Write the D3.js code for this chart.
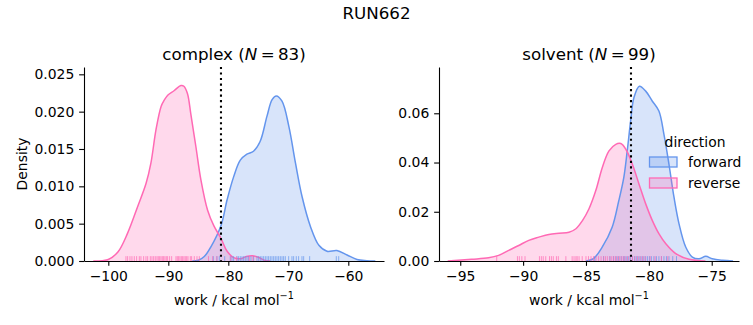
<!DOCTYPE html>
<html><head><meta charset="utf-8">
<script src="https://cdn.jsdelivr.net/npm/d3@7"></script>
<style>body{margin:0;background:#fff} text{font-family:"DejaVu Sans",sans-serif;fill:#000}</style>
</head><body><svg id="c" width="753" height="325"></svg>
<script>
// ---- data ----
const figTitle = "RUN662";
const directions = ["forward", "reverse"];
const colors = {forward: "#6495ED", reverse: "#FF69B4"};

// complex: KDE curves (work, density)
const complexForwardX = [-86, -85, -84, -82.9, -81.2, -80.2, -79.1, -78, -76.9, -75.8, -74.7, -73.55, -72.7, -72, -71.05, -69.9, -68.8, -67.7, -66.3, -64.9, -63.55, -61.9, -60.2, -58.55, -56.9, -55.5];
const complexForwardD = [0, 0.0001, 0.0006, 0.0019, 0.0048, 0.0082, 0.0113, 0.0135, 0.0143, 0.0147, 0.016, 0.0194, 0.0216, 0.0221, 0.0214, 0.018, 0.0131, 0.0086, 0.0046, 0.0021, 0.0013, 0.0014, 0.0008, 0.0002, 0.00005, 0];
const complexReverseX = [-102.5, -101, -100, -98.4, -96.8, -95.1, -93.7, -92.9, -92.05, -91.2, -90.7, -90.1, -89.05, -87.9, -87.4, -86.8, -86.25, -85.4, -84.55, -83.45, -82.4, -81.2, -80.2, -79.1, -78, -77, -76, -75, -74, -73];
const complexReverseD = [0, 0.00005, 0.0002, 0.0012, 0.0037, 0.0073, 0.0104, 0.0131, 0.0176, 0.0207, 0.0215, 0.0222, 0.0228, 0.0235, 0.0234, 0.0224, 0.0197, 0.0153, 0.0108, 0.0068, 0.0047, 0.003, 0.0013, 0.00045, 0.0003, 0.0006, 0.0007, 0.0005, 0.0001, 0];
// complex: rug samples
const complexForwardRug = [-82.5, -81.9, -81.5, -80.6, -79.67, -79.39, -79.11, -78.55, -78.28, -78, -77.72, -77.44, -77.17, -76.89, -76.61, -76.22, -75.78, -75.22, -74.94, -74.67, -74.39, -74.11, -73.83, -73.55, -73.28, -73, -72.72, -72.44, -72.17, -71.89, -71.61, -71.33, -71.05, -70.78, -70.5, -69.94, -69.39, -69.11, -68.67, -68.28, -67.72, -67.44, -66.44, -62, -61.6];
const complexReverseRug = [-97.06, -96.78, -96.39, -96.06, -95.67, -95.28, -94.83, -94.56, -94.11, -93.72, -93.44, -93, -92.72, -92.44, -92.17, -91.89, -91.67, -91.44, -91.22, -91, -90.78, -90.56, -90.33, -90.11, -89.78, -89.44, -88.72, -88.5, -88.28, -88.06, -87.83, -87.61, -87.39, -87.17, -86.94, -86.72, -86.33, -86.11, -85.67, -85.22, -84.83, -83.3, -82.6, -81.9, -79.6, -78.6, -76.5, -75.9];

// solvent: KDE curves
const solventForwardX = [-85, -84.4, -83.7, -82.92, -82.39, -81.99, -81.72, -81.45, -81.19, -80.75, -80.25, -79.72, -79.2, -78.8, -78.4, -78.0, -77.6, -77.07, -76.54, -76.01, -75.47, -74.95, -74.15, -73.3];
const solventForwardD = [0, 0.001, 0.0057, 0.0137, 0.0245, 0.034, 0.0447, 0.0568, 0.0663, 0.071, 0.069, 0.0649, 0.0609, 0.0514, 0.0393, 0.0259, 0.0151, 0.0057, 0.0016, 0.0009, 0.0019, 0.0009, 0.0003, 0];
const solventReverseX = [-96, -94.1, -92.75, -91.95, -91.15, -90.35, -89.55, -88.75, -87.95, -87.15, -86.35, -85.8, -85.28, -84.76, -84.22, -83.7, -83.17, -82.63, -82.23, -81.83, -81.31, -80.78, -80.25, -79.72, -79.19, -78.65, -77.86, -76.8, -75.5];
const solventReverseD = [0, 0.0007, 0.0013, 0.0023, 0.0043, 0.0063, 0.0084, 0.0097, 0.0108, 0.0113, 0.0117, 0.0131, 0.0164, 0.0212, 0.0286, 0.038, 0.0447, 0.0474, 0.0477, 0.0454, 0.0393, 0.0312, 0.0232, 0.0164, 0.011, 0.007, 0.003, 0.0007, 0];
// solvent: rug samples
const solventForwardRug = [-84.3, -83.6, -83.1, -82.8, -82.6, -82.4, -82.2, -82.0, -81.9, -81.75, -81.6, -81.45, -81.3, -81.15, -81.0, -80.85, -80.7, -80.55, -80.4, -80.25, -80.1, -79.95, -79.8, -79.6, -79.4, -79.2, -79.0, -78.8, -78.6, -78.4, -78.1, -77.8];
const solventReverseRug = [-92.1, -90.45, -90.3, -90.1, -89.85, -88.7, -88.55, -88.4, -88.2, -87.9, -87.75, -87.6, -87.35, -87.2, -86.6, -86.1, -85.95, -85.8, -85.7, -85.55, -85.3, -85.0, -84.8, -84.6, -84.4, -84.2, -84.0, -83.8, -83.6, -83.45, -83.3, -83.1, -82.95, -82.8, -82.65, -82.5, -82.35, -82.2, -82.05, -81.9, -81.7, -81.5, -81.3, -81.1, -80.9, -80.7, -80.5, -80.3, -79.9, -79.5, -79.0, -78.5];

// reference lines (vertical dotted)
const complexVLine = -81.22;
const solventVLine = -81.42;

// ticks
const complexXTicks = [-100, -90, -80, -70, -60];
const complexYTicks = [0, 0.005, 0.010, 0.015, 0.020, 0.025];
const solventXTicks = [-95, -90, -85, -80, -75];
const solventYTicks = [0, 0.02, 0.04, 0.06];

const panels = [
  {name: "complex", n: 83, left: 84, xDomain: [-104.05, -54.05], yDomain: [0, 0.02598], xTicks: complexXTicks, yTicks: complexYTicks, yFmt: ".3f", ylabel: "Density",
   curves: {forward: [complexForwardX, complexForwardD], reverse: [complexReverseX, complexReverseD]},
   rugs: {forward: complexForwardRug, reverse: complexReverseRug}, vline: complexVLine},
  {name: "solvent", n: 99, left: 439, xDomain: [-96.69, -72.83], yDomain: [0, 0.0788], xTicks: solventXTicks, yTicks: solventYTicks, yFmt: ".2f", ylabel: null,
   curves: {forward: [solventForwardX, solventForwardD], reverse: [solventReverseX, solventReverseD]},
   rugs: {forward: solventForwardRug, reverse: solventReverseRug}, vline: solventVLine, legend: true}
];

// ---- drawing ----
const svg = d3.select("#c");
const W = 300, axTop = 67, axBottom = 261, H = axBottom - axTop;
const FS = 13.9, TS = 16.7;
const tickLen = 4.86, pad = 4.86;

svg.append("text").attr("x", 376.5).attr("y", 19).attr("text-anchor", "middle").style("font-size", TS + "px").text(figTitle);

panels.forEach(p => {
  const g = svg.append("g").attr("transform", `translate(${p.left},${axTop})`);
  const x = d3.scaleLinear().domain(p.xDomain).range([0, W]);
  const y = d3.scaleLinear().domain(p.yDomain).range([H, 0]);
  const yc = d => Math.min(H, y(d[1]));

  const curve = d3.curveCatmullRom.alpha(0.5);
  const area = d3.area().x(d => x(d[0])).y0(H).y1(yc).curve(curve);
  const line = d3.line().x(d => x(d[0])).y(yc).curve(curve);

  const defs = g.append("defs");
  defs.append("clipPath").attr("id", "clip-" + p.name).append("rect").attr("x", 0).attr("y", -5).attr("width", W).attr("height", H + 5);
  const plot = g.append("g").attr("clip-path", `url(#clip-${p.name})`);

  directions.forEach(dir => {
    const [xs, ds] = p.curves[dir];
    const pts = xs.map((v, i) => [v, ds[i]]);
    plot.append("path").datum(pts).attr("d", area).attr("fill", colors[dir]).attr("fill-opacity", 0.25).attr("stroke", "none");
  });
  directions.forEach(dir => {
    const [xs, ds] = p.curves[dir];
    const pts = xs.map((v, i) => [v, ds[i]]);
    plot.append("path").datum(pts).attr("d", line).attr("fill", "none").attr("stroke", colors[dir]).attr("stroke-width", 1.5);
  });
  // rugs
  directions.forEach(dir => {
    g.append("g").selectAll("line").data(p.rugs[dir]).join("line")
      .attr("x1", d => x(d)).attr("x2", d => x(d))
      .attr("y1", H - 0.025 * H).attr("y2", H)
      .attr("stroke", colors[dir]).attr("stroke-opacity", 0.7).attr("stroke-width", 1);
  });
  // vertical dotted line
  g.append("line").attr("x1", x(p.vline)).attr("x2", x(p.vline)).attr("y1", 0).attr("y2", H)
    .attr("stroke", "#000").attr("stroke-width", 2.08).attr("stroke-dasharray", "2.08,3.44");

  // axes
  const xAxis = d3.axisBottom(x).tickValues(p.xTicks).tickFormat(d3.format("d")).tickSize(tickLen).tickPadding(pad).tickSizeOuter(0);
  const yAxis = d3.axisLeft(y).tickValues(p.yTicks).tickFormat(d3.format(p.yFmt)).tickSize(tickLen).tickPadding(pad).tickSizeOuter(0);
  const gx = g.append("g").attr("transform", `translate(0,${H})`).call(xAxis);
  const gy = g.append("g").call(yAxis);
  [gx, gy].forEach(a => {
    a.selectAll("text").style("font-size", FS + "px").style("font-family", '"DejaVu Sans", sans-serif').attr("fill", "#000");
    a.selectAll("line").attr("stroke", "#000").attr("stroke-width", 1.1);
    a.select(".domain").attr("stroke", "#000").attr("stroke-width", 1.1);
  });

  // title
  const t = g.append("text").attr("x", W / 2).attr("y", -7).attr("text-anchor", "middle").style("font-size", TS + "px");
  t.append("tspan").text(p.name + " (");
  t.append("tspan").style("font-style", "italic").text("N");
  t.append("tspan").text("\u2009=\u2009" + p.n + ")");

  // x label
  const xl = g.append("text").attr("x", W / 2).attr("y", H + 44).attr("text-anchor", "middle").style("font-size", FS + "px");
  xl.append("tspan").text("work / kcal mol");
  xl.append("tspan").attr("dy", -6).style("font-size", "9.7px").text("\u22121");

  if (p.ylabel) {
    g.append("text").attr("transform", `translate(${-57},${H / 2}) rotate(-90)`).attr("text-anchor", "middle").style("font-size", FS + "px").text(p.ylabel);
  }

  if (p.legend) {
    const lg = svg.append("g").attr("transform", "translate(649,0)");
    lg.append("text").attr("x", 46).attr("y", 146.5).attr("text-anchor", "middle").style("font-size", FS + "px").text("direction");
    directions.forEach((dir, i) => {
      const by = 166.5 + i * 21;
      lg.append("rect").attr("x", 0.5).attr("y", by - 9.5).attr("width", 27.5).attr("height", 10)
        .attr("fill", colors[dir]).attr("fill-opacity", 0.25).attr("stroke", colors[dir]).attr("stroke-width", 1.3);
      lg.append("text").attr("x", 39).attr("y", by).style("font-size", FS + "px").text(dir);
    });
  }
});
</script></body></html>
